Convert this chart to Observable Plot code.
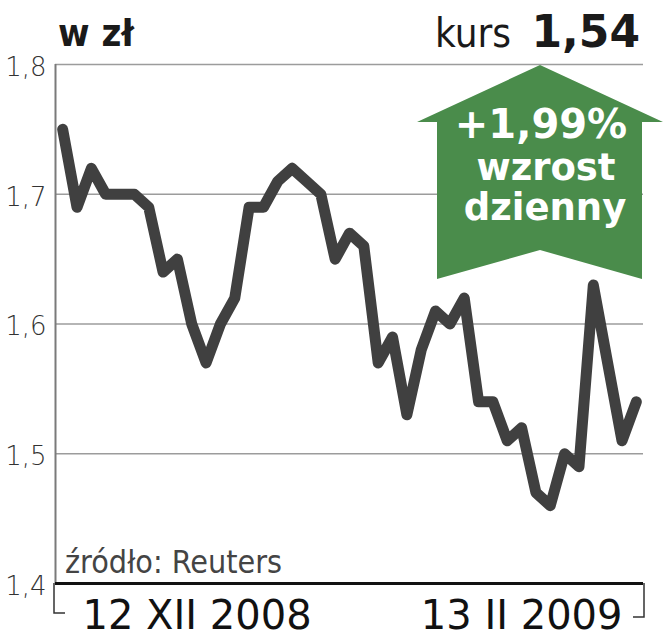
<!DOCTYPE html>
<html><head><meta charset="utf-8">
<script src="https://cdn.jsdelivr.net/npm/d3@7"></script>
<script src="https://cdn.jsdelivr.net/npm/@observablehq/plot@0.6"></script>
<style>
body{margin:0;background:#fff}
#wrap{position:relative;width:664px;height:640px;overflow:hidden}
.cond{font-stretch:condensed}
</style></head>
<body><div id="wrap"></div>
<script>
// Daily price (zł), 12 XII 2008 – 13 II 2009
const values = [1.75,1.69,1.72,1.70,1.70,1.70,1.69,1.64,1.65,1.60,1.57,1.60,1.62,1.69,1.69,1.71,1.72,1.71,1.70,1.65,1.67,1.66,1.57,1.59,1.53,1.58,1.61,1.60,1.62,1.54,1.54,1.51,1.52,1.47,1.46,1.50,1.49,1.63,1.57,1.51,1.54];
const yTicks = [1.4,1.5,1.6,1.7,1.8];
const dateLabels = ["12 XII 2008","13 II 2009"];
const unitLabel = "w zł";
const priceLabel = "kurs";
const priceValue = "1,54";
const changeLines = ["+1,99%","wzrost","dzienny"];
const sourceLabel = "źródło: Reuters";

const FONT = "DejaVu Sans, Liberation Sans, sans-serif";
const CFONT = "DejaVu Sans Condensed, DejaVu Sans, Liberation Sans Narrow, sans-serif";
const xDomain = [-0.5, values.length - 0.5];
const data = values.map((v,i)=>({i, v}));
const fmt = d => d.toFixed(1).replace(".", ",");

const chart = Plot.plot({
  width: 664, height: 640,
  marginLeft: 55, marginRight: 21, marginTop: 64, marginBottom: 57,
  x: {domain: xDomain, axis: null},
  y: {domain: [1.4, 1.8], axis: null},
  style: {fontFamily: FONT, background: "#fff"},
  marks: [
    Plot.ruleY(yTicks.filter(d => d > 1.4), {stroke: "#9c9c9c", strokeWidth: 1.5}),
    Plot.ruleX([xDomain[0]], {y1: 1.4, y2: 1.8, stroke: "#7a7a7a", strokeWidth: 2}),
    Plot.ruleY([1.4], {stroke: "#111", strokeWidth: 3}),
    Plot.line(data, {x: "i", y: "v", stroke: "#404040", strokeWidth: 11, strokeLinejoin: "round", strokeLinecap: "round"}),
    Plot.text(yTicks, {x: xDomain[0], y: d => d, text: fmt, textAnchor: "end", lineAnchor: "middle", dx: -9, dy: 3, fontSize: 26, fontWeight: 300, fill: "#333", fontFamily: FONT}),
    Plot.text([dateLabels[0]], {frameAnchor: "bottom-left", textAnchor: "start", lineAnchor: "middle", dx: 27, dy: 33, fontSize: 40, fill: "#111", fontFamily: FONT}),
    Plot.text([dateLabels[1]], {frameAnchor: "bottom-right", textAnchor: "end", lineAnchor: "middle", dx: -21, dy: 33, fontSize: 40, fill: "#111", fontFamily: FONT})
  ]
});
document.getElementById("wrap").appendChild(chart);

const svg = d3.select(chart);
// bracket stubs at axis ends
svg.append("path").attr("d","M54,583V613H65").attr("fill","none").attr("stroke","#333").attr("stroke-width",1.5);
svg.append("path").attr("d","M644,583V617H633").attr("fill","none").attr("stroke","#333").attr("stroke-width",1.5);

// green arrow
const arrow = [[540,65],[663,122],[642,122],[642,279],[540,250],[437,279],[437,122],[417,122]];
svg.append("polygon").attr("points", arrow.map(p=>p.join(",")).join(" ")).attr("fill","#4a8c4b");

const t = (txt, x, y, size, weight, fill, anchor, fam) => svg.append("text").text(txt)
  .attr("x",x).attr("y",y).attr("font-size",size).attr("font-weight",weight)
  .attr("fill",fill).attr("text-anchor",anchor).attr("font-family",fam || FONT)
  .attr("class", fam === CFONT ? "cond" : null);

t(changeLines[0], 541, 138, 40, "bold", "#fff", "middle");
t(changeLines[1], 546, 180, 37, "bold", "#fff", "middle");
t(changeLines[2], 545, 220, 37, "bold", "#fff", "middle");

t(unitLabel, 58, 46, 38, "bold", "#1a1a1a", "start", CFONT);
t(priceLabel, 511, 47, 40, "normal", "#1a1a1a", "end", CFONT);
t(priceValue, 640, 47, 44, "bold", "#1a1a1a", "end");
t(sourceLabel, 65, 573, 32, 300, "#444", "start", CFONT);
</script>
</body></html>
